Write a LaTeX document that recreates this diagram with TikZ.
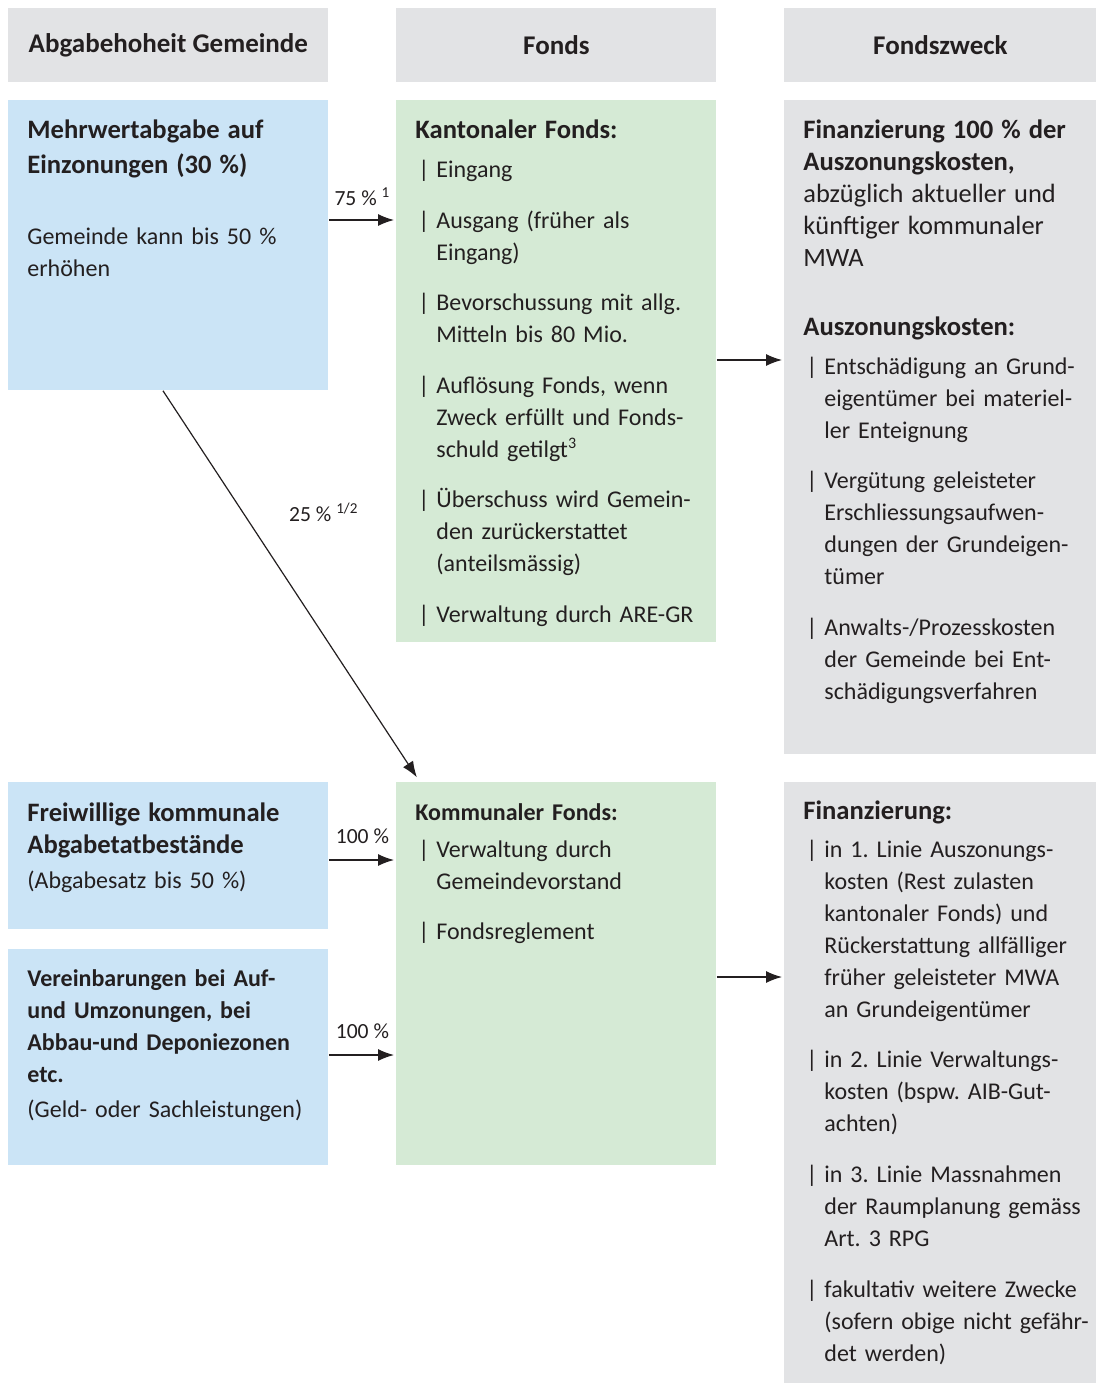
\documentclass[tikz,border=0pt]{standalone}
\usepackage{fontspec}
\setmainfont{Carlito}
\usetikzlibrary{arrows.meta,calc}
\definecolor{headgrey}{RGB}{226,227,229}
\definecolor{boxblue}{RGB}{203,228,246}
\definecolor{boxgreen}{RGB}{213,234,213}
\definecolor{ink}{RGB}{35,31,32}
\frenchspacing
% list bar and hanging indent
\newcommand{\itm}{\hspace*{1.5pt}\makebox[9pt][l]{|}}
\newcommand{\cnt}{\hspace*{10.5pt}}
% large bold heading line
\newcommand{\hd}[1]{{\fontsize{13.3}{16}\selectfont\bfseries #1}}
\begin{document}
\begin{tikzpicture}[x=0.5pt,y=-0.5pt,
  every node/.style={text=ink,font=\fontsize{12}{16}\selectfont},
  box/.style={fill=#1,minimum width=160pt,inner sep=0pt,anchor=north west},
  head/.style={box=headgrey,minimum height=37pt,font=\fontsize{13.5}{16}\selectfont\bfseries},
  txt/.style={anchor=base west,inner sep=0pt,text width=175pt,align=left},
  lbl/.style={font=\fontsize{10.8}{12}\selectfont,inner sep=1pt},
  arr/.style={-{Latex[length=8pt,width=6pt]},line width=0.6pt,ink,shorten >=1pt}]
\useasboundingbox (0,0) rectangle (1097,1383);

% column headers
\node[head] (h1) at (8,8) {Abgabehoheit Gemeinde};
\node[head] (h2) at (396,8) {Fonds};
\node[head,minimum width=156pt] (h3) at (784,8) {Fondszweck};

% boxes
\node[box=boxblue,minimum height=145pt] (mwa) at (8,100) {};
\node[box=boxgreen,minimum height=271pt] (kant) at (396,100) {};
\node[box=headgrey,minimum width=156pt,minimum height=327pt] (zweck1) at (784,100) {};
\node[box=boxblue,minimum height=73.5pt] (frei) at (8,782) {};
\node[box=boxblue,minimum height=108pt] (verein) at (8,949) {};
\node[box=boxgreen,minimum height=191.5pt] (komm) at (396,782) {};
\node[box=headgrey,minimum width=156pt,minimum height=300.5pt] (zweck2) at (784,782) {};

% texts
\node[txt] (tmwa) at (27,138) {\hd{Mehrwertabgabe auf}\\[1.5pt]
  \hd{Einzonungen (30~\%)}\\[19.5pt]
  Gemeinde kann bis 50~\%\\ erhöhen};
\node[txt] (tkant) at (415,138) {\hd{Kantonaler Fonds:}\\[3.5pt]
  \itm Eingang\\[9.5pt]
  \itm Ausgang (früher als\\ \cnt Eingang)\\[9pt]
  \itm Bevorschussung mit allg.\\ \cnt Mitteln bis 80 Mio.\\[9.5pt]
  \itm Auflösung Fonds, wenn\\ \cnt Zweck erfüllt und Fonds-\\ \cnt schuld getilgt\textsuperscript{3}\\[9pt]
  \itm Überschuss wird Gemein-\\ \cnt den zurückerstattet\\ \cnt (anteilsmässig)\\[9.5pt]
  \itm Verwaltung durch ARE-GR};
\node[txt] (tzweck1) at (803,138) {\hd{Finanzierung 100~\% der}\\
  \hd{Auszonungskosten,}\\
  {\fontsize{13.2}{16}\selectfont abzüglich aktueller und}\\
  {\fontsize{13.2}{16}\selectfont künftiger kommunaler}\\
  {\fontsize{13.2}{16}\selectfont MWA}\\[18.5pt]
  \hd{Auszonungskosten:}\\[3.5pt]
  \itm Entschädigung an Grund-\\ \cnt eigentümer bei materiel-\\ \cnt ler Enteignung\\[9pt]
  \itm Vergütung geleisteter\\ \cnt Erschliessungsaufwen-\\ \cnt dungen der Grundeigen-\\ \cnt tümer\\[9.5pt]
  \itm Anwalts-/Prozesskosten\\ \cnt der Gemeinde bei Ent-\\ \cnt schädigungsverfahren};
\node[txt] (tfrei) at (27,821) {\hd{Freiwillige kommunale}\\
  \hd{Abgabetatbestände}\\[1.5pt]
  (Abgabesatz bis 50~\%)};
\node[txt] (tverein) at (27,986) {\textbf{Vereinbarungen bei Auf-}\\
  \textbf{und Umzonungen, bei}\\
  \textbf{Abbau-und Deponiezonen}\\
  \textbf{etc.}\\[1.5pt]
  (Geld- oder Sachleistungen)};
\node[txt] (tkomm) at (415,820) {\textbf{Kommunaler Fonds:}\\[2.5pt]
  \itm Verwaltung durch\\ \cnt Gemeindevorstand\\[9pt]
  \itm Fondsreglement};
\node[txt] (tzweck2) at (803,819) {\hd{Finanzierung:}\\[3pt]
  \itm in 1. Linie Auszonungs-\\ \cnt kosten (Rest zulasten\\ \cnt kantonaler Fonds) und\\
  \cnt Rückerstattung allfälliger\\ \cnt früher geleisteter MWA\\ \cnt an Grundeigentümer\\[9pt]
  \itm in 2. Linie Verwaltungs-\\ \cnt kosten (bspw. AIB-Gut-\\ \cnt achten)\\[9.5pt]
  \itm in 3. Linie Massnahmen\\ \cnt der Raumplanung gemäss\\ \cnt Art. 3 RPG\\[9.5pt]
  \itm fakultativ weitere Zwecke\\ \cnt (sofern obige nicht gefähr-\\ \cnt det werden)};

% arrows
\draw[arr] (mwa.east |- 0,220) -- node[lbl,above=6pt] {75~\% \textsuperscript{1}} (kant.west |- 0,220);
\draw[arr] ($(mwa.south west)+(155,0)$) -- node[lbl,pos=0.312,right=22pt] {25~\% \textsuperscript{1/2}} ($(komm.north west)+(22,-3)$);
\draw[arr] (kant.east |- 0,360) -- (zweck1.west |- 0,360);
\draw[arr] (frei.east |- 0,860) -- node[lbl,above=7pt] {100~\%} (komm.west |- 0,860);
\draw[arr] (verein.east |- 0,1055) -- node[lbl,above=7pt] {100~\%} (komm.west |- 0,1055);
\draw[arr] (komm.east |- 0,977) -- (zweck2.west |- 0,977);
\end{tikzpicture}
\end{document}
